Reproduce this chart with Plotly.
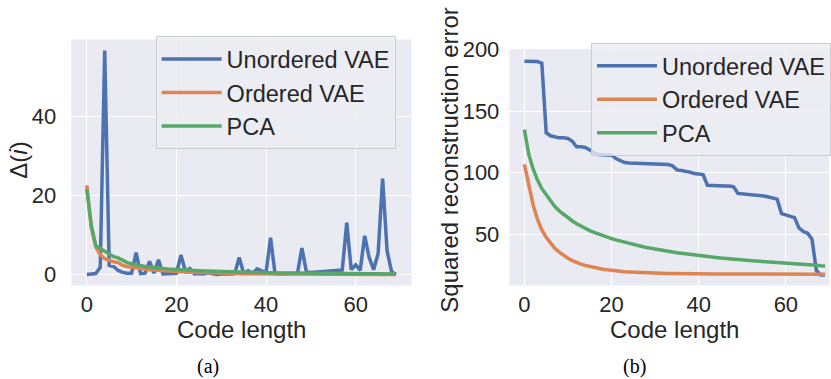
import plotly.graph_objects as go

W, H = 831, 379
code_len = list(range(70))

series_names = ["Unordered VAE", "Ordered VAE", "PCA"]
colors = ["#4C72B0", "#DD8452", "#55A868"]

delta_unordered = [
    0.0, 0.0, 0.2, 1.8, 56.8, 2.3, 2.0, 1.0, 0.5, 0.3,
    0.3, 5.5, 0.2, 0.3, 3.3, 0.3, 3.7, 0.1, 0.2, 0.1,
    0.3, 4.9, 0.8, 1.5, 0.1, 0.2, 0.1, 0.4, 0.1, 0.0,
    0.1, 0.0, 0.1, 0.2, 4.3, 0.3, 0.9, 0.3, 1.4, 0.9,
    0.5, 9.3, 0.2, 0.1, 0.2, 0.1, 0.2, 0.3, 6.7, 0.6,
    0.5, 0.6, 0.7, 0.8, 1.0, 1.1, 1.0, 1.1, 13.1, 1.2,
    2.4, 1.0, 9.8, 4.3, 1.2, 5.3, 24.3, 6.0, 0.7, 0.0]
delta_ordered = [
    22.6, 12.0, 7.0, 5.0, 4.0, 3.5, 3.2, 3.0, 2.3, 2.0,
    1.8, 1.6, 1.45, 1.3, 1.2, 1.1, 1.0, 0.92, 0.85, 0.78,
    0.72, 0.66, 0.6, 0.55, 0.5, 0.46, 0.42, 0.38, 0.35, 0.32,
    0.29, 0.26, 0.24, 0.22, 0.2, 0.18, 0.16, 0.15, 0.14, 0.13,
    0.12, 0.11, 0.1, 0.09, 0.08, 0.07, 0.06, 0.05, 0.05, 0.04,
    0.04, 0.03, 0.03, 0.03, 0.02, 0.02, 0.02, 0.02, 0.01, 0.01,
    0.01, 0.01, 0.01, 0.01, 0.0, 0.0, 0.0, 0.0, 0.0, 0.0]
delta_pca = [
    21.6, 12.5, 7.3, 6.6, 5.7, 5.1, 4.5, 4.2, 3.6, 3.0,
    2.7, 2.4, 2.2, 2.0, 1.9, 1.7, 1.6, 1.5, 1.4, 1.3,
    1.2, 1.15, 1.1, 1.05, 1.0, 0.95, 0.9, 0.85, 0.8, 0.75,
    0.7, 0.67, 0.64, 0.61, 0.58, 0.55, 0.52, 0.5, 0.48, 0.46,
    0.44, 0.42, 0.4, 0.38, 0.37, 0.36, 0.35, 0.34, 0.33, 0.32,
    0.31, 0.3, 0.29, 0.28, 0.27, 0.26, 0.25, 0.24, 0.23, 0.22,
    0.21, 0.2, 0.19, 0.18, 0.17, 0.16, 0.15, 0.14, 0.13, 0.12]

err_unordered = [
    190.5, 190.5, 190.5, 190.3, 189.0, 132.5, 130.0, 129.0, 128.3, 128.3,
    127.8, 125.5, 121.0, 121.0, 120.5, 118.5, 116.0, 114.8, 114.5, 114.5,
    114.2, 111.5, 109.5, 108.3, 107.8, 107.6, 107.5, 107.3, 107.2, 107.0,
    106.9, 106.8, 106.8, 106.6, 105.5, 102.3, 101.8, 101.3, 100.5, 99.3,
    98.9, 98.5, 89.8, 89.5, 89.4, 89.3, 89.3, 89.2, 88.5, 83.2,
    82.9, 82.6, 82.4, 82.0, 81.6, 81.0, 80.2, 79.5, 78.5, 66.8,
    65.8, 64.5, 63.5, 55.2, 52.2, 50.8, 46.0, 20.5, 16.9, 16.8]
err_ordered = [
    106.8, 90.0, 74.0, 62.0, 53.5, 47.5, 42.5, 38.5, 35.5, 32.8,
    30.5, 28.6, 27.0, 25.7, 24.6, 23.7, 22.9, 22.2, 21.6, 21.1,
    20.6, 20.2, 19.9, 19.6, 19.4, 19.2, 19.0, 18.8, 18.7, 18.6,
    18.5, 18.4, 18.3, 18.2, 18.1, 18.0, 17.95, 17.9, 17.85, 17.8,
    17.78, 17.75, 17.72, 17.7, 17.68, 17.66, 17.65, 17.64, 17.63, 17.62,
    17.6, 17.6, 17.6, 17.6, 17.6, 17.6, 17.6, 17.6, 17.6, 17.6,
    17.6, 17.6, 17.6, 17.6, 17.6, 17.6, 17.6, 17.6, 17.6, 17.6]
err_pca = [
    135.0, 115.0, 103.0, 94.0, 87.0, 82.0, 77.0, 72.5, 69.0, 66.0,
    63.0, 60.8, 58.5, 56.5, 54.6, 53.0, 51.5, 50.1, 48.8, 47.6,
    46.5, 45.4, 44.4, 43.4, 42.5, 41.6, 40.8, 40.0, 39.3, 38.6,
    37.9, 37.3, 36.7, 36.1, 35.5, 35.0, 34.5, 34.0, 33.5, 33.1,
    32.7, 32.3, 31.9, 31.5, 31.1, 30.8, 30.4, 30.1, 29.8, 29.5,
    29.2, 28.9, 28.6, 28.3, 28.0, 27.8, 27.5, 27.2, 27.0, 26.7,
    26.5, 26.2, 26.0, 25.7, 25.5, 25.2, 25.0, 24.8, 24.5, 24.3]

x_ticks = [0, 20, 40, 60]
left_y_ticks = [0, 20, 40]
right_y_ticks = [50, 100, 150, 200]

FONT = "Liberation Sans, Arial, sans-serif"
SERIF = "Liberation Serif, Times New Roman, serif"
TXT = "#262626"
BG = "#EAEAF2"
LW = 3.5

fig = go.Figure()
for name, col, ys in zip(series_names, colors, [delta_unordered, delta_ordered, delta_pca]):
    fig.add_trace(go.Scatter(x=code_len, y=ys, mode="lines", name=name,
                             line=dict(color=col, width=LW),
                             xaxis="x", yaxis="y", legend="legend"))
for name, col, ys in zip(series_names, colors, [err_unordered, err_ordered, err_pca]):
    fig.add_trace(go.Scatter(x=code_len, y=ys, mode="lines", name=name,
                             line=dict(color=col, width=LW),
                             xaxis="x2", yaxis="y2", legend="legend2"))

def px_x(p):
    return p / W

def px_y(p):
    return (H - p) / H

axis_common = dict(showgrid=True, gridcolor="white", gridwidth=1.3, zeroline=False,
                   showline=False, ticks="", tickfont=dict(size=22, family=FONT, color=TXT))

legend_common = dict(xanchor="left", yanchor="top", bgcolor="rgba(236,236,243,0.8)",
                     bordercolor="#CCCCCC", borderwidth=1,
                     font=dict(size=23.5, family=FONT, color=TXT), itemwidth=60)

def label(text, x, y, size=24, angle=0, family=FONT, color=TXT):
    return dict(text=text, x=px_x(x), y=px_y(y), xref="paper", yref="paper",
                xanchor="center", yanchor="middle", showarrow=False, textangle=angle,
                font=dict(family=family, size=size, color=color))

fig.update_layout(
    width=W, height=H, margin=dict(l=0, r=0, t=0, b=0),
    paper_bgcolor="white", plot_bgcolor=BG,
    font=dict(family=FONT, color=TXT),
    xaxis=dict(domain=[px_x(71.5), px_x(412.5)], range=[-3.45, 72.45], anchor="y",
               tickvals=x_ticks, ticklabelstandoff=3, **axis_common),
    yaxis=dict(domain=[px_y(283.3), px_y(28.5)], range=[-2.84, 59.6], anchor="x",
               tickvals=left_y_ticks, ticklabelstandoff=14, **axis_common),
    xaxis2=dict(domain=[px_x(510.6), 1.0], range=[-3.45, 69.9], anchor="y2",
                tickvals=x_ticks, ticklabelstandoff=3, **axis_common),
    yaxis2=dict(domain=[px_y(283.3), px_y(38.3)], range=[8.3, 200.5], anchor="x2",
                tickvals=right_y_ticks, ticklabelstandoff=9, **axis_common),
    legend=dict(x=px_x(156), y=px_y(25), **legend_common),
    legend2=dict(x=px_x(592.7), y=px_y(32), **legend_common),
    annotations=[
        label("Code length", 242, 329),
        label("Code length", 676, 329),
        label("Δ(<i>i</i>)", 19, 153, angle=-90),
        label("Squared reconstruction error", 451, 153, angle=-90),
        label("(a)", 209, 367, size=20, family=SERIF, color="black"),
        label("(b)", 636, 367, size=20, family=SERIF, color="black"),
    ],
)

fig.write_html("out.html")
